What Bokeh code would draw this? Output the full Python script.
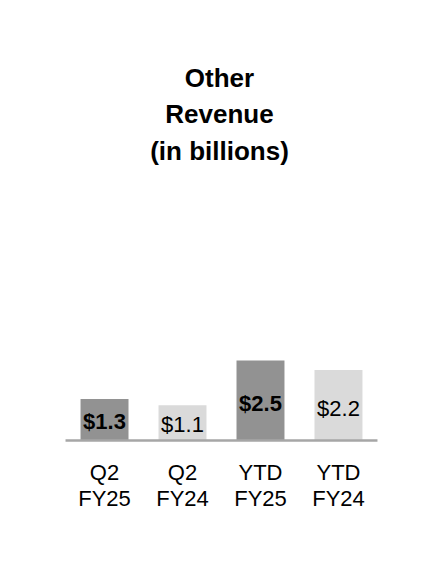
from bokeh.plotting import figure
from bokeh.models import ColumnDataSource, FactorRange, Range1d, Label
from bokeh.core.properties import value
from bokeh.embed import file_html
from bokeh.resources import INLINE

# ---- data ----
title_lines = ["Other", "Revenue", "(in billions)"]
periods = ["Q2", "Q2", "YTD", "YTD"]
fiscal = ["FY25", "FY24", "FY25", "FY24"]
revenue = [1.3, 1.1, 2.5, 2.2]
value_labels = ["$1.3", "$1.1", "$2.5", "$2.2"]
bar_colors = ["#929292", "#dadada", "#929292", "#dadada"]
label_styles = ["bold", "normal", "bold", "normal"]

FONT = "Liberation Sans"

factors = [f"{a} {b}" for a, b in zip(periods, fiscal)]

src = ColumnDataSource(dict(
    x=factors,
    top=revenue,
    color=bar_colors,
    label=value_labels,
    label_y=[v * 0.46 for v in revenue],
    style=label_styles,
    period=periods,
    fiscal=fiscal,
    zero=[0] * len(revenue),
))

p = figure(
    width=424, height=560,
    x_range=FactorRange(factors=factors, range_padding=0.603, range_padding_units="absolute"),
    y_range=Range1d(-3.75, 13.75),
    output_backend="svg", toolbar_location=None,
    min_border=0, min_border_left=18, min_border_right=0,
    min_border_top=0, min_border_bottom=0,
)
p.axis.visible = False
p.grid.visible = False
p.outline_line_color = None
p.background_fill_color = "white"
p.border_fill_color = "white"

p.vbar(x="x", top="top", bottom=0, width=0.615, fill_color="color",
       line_color=None, source=src)

# baseline
p.segment(x0=[(factors[0], -0.5)], x1=[(factors[-1], 0.5)], y0=[0], y1=[0],
          line_color="#a6a6a6", line_width=2.5)

# value labels
p.text(x="x", y="label_y", text="label", source=src,
       text_font=value(FONT), text_font_size="22px", text_font_style="style",
       text_align="center", text_baseline="middle", text_color="black")

# category labels
p.text(x="x", y="zero", text="period", source=src, y_offset=32,
       text_font=value(FONT), text_font_size="22px",
       text_align="center", text_baseline="middle", text_color="black")
p.text(x="x", y="zero", text="fiscal", source=src, y_offset=58,
       text_font=value(FONT), text_font_size="22px",
       text_align="center", text_baseline="middle", text_color="black")

# title
for i, line in enumerate(title_lines):
    p.add_layout(Label(
        x=201, y=483 - i * 36.5, x_units="screen", y_units="screen",
        text=line, text_font=FONT, text_font_size="26px", text_font_style="bold",
        text_align="center", text_baseline="alphabetic", text_color="black",
    ))

open("out.html", "w").write(file_html(p, INLINE))
